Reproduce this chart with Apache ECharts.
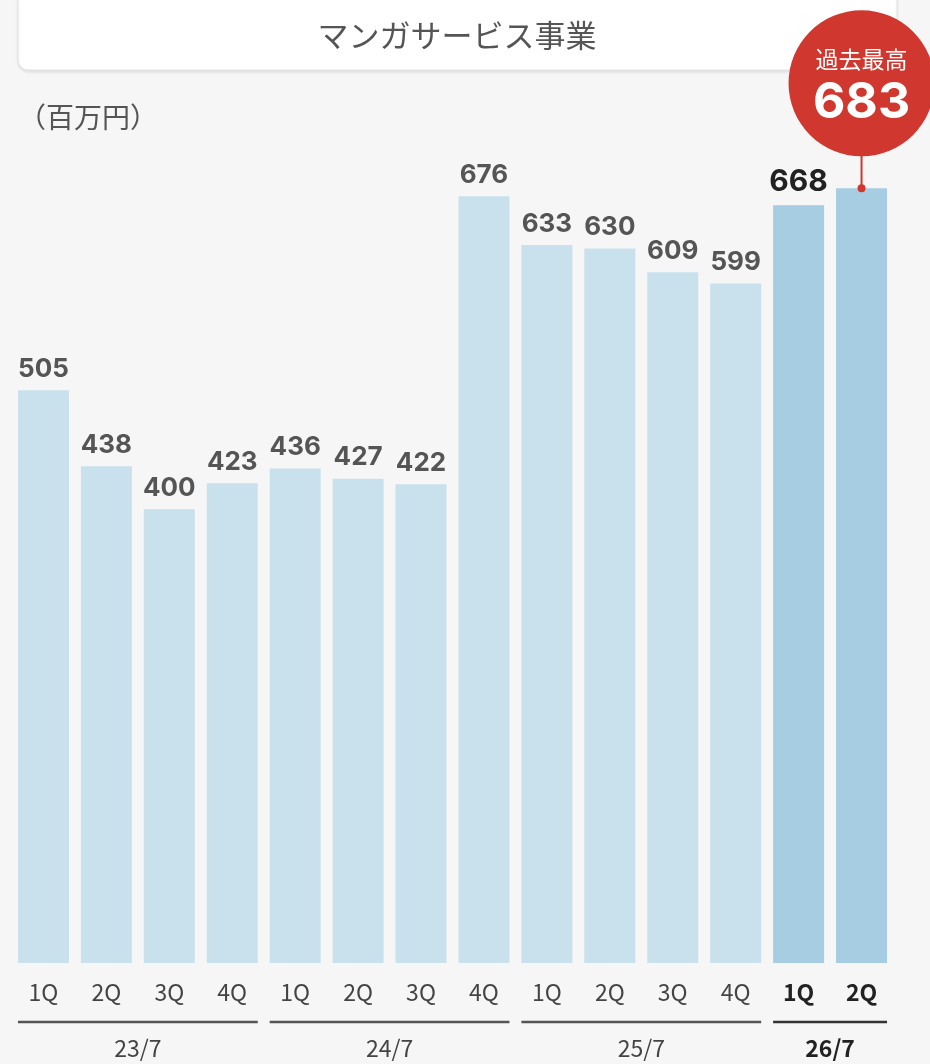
<!DOCTYPE html>
<html>
<head>
<meta charset="utf-8">
<script src="https://cdn.jsdelivr.net/npm/echarts@6/dist/echarts.min.js"></script>
<style>
  html, body { margin: 0; padding: 0; background: #f6f6f6; }
  #chart { width: 930px; height: 1064px; }
</style>
</head>
<body>
<div id="chart"></div>
<script>
const quarters = ['1Q', '2Q', '3Q', '4Q', '1Q', '2Q', '3Q', '4Q', '1Q', '2Q', '3Q', '4Q', '1Q', '2Q'];
const sales = [505, 438, 400, 423, 436, 427, 422, 676, 633, 630, 609, 599, 668, 683];
const groupLabels = ['23/7', '24/7', '25/7', '26/7'];
const groupSizes = [4, 4, 4, 2];
const currentFrom = 12; // 26/7 bars are highlighted
const recordIndex = 13;

const JP = '"Noto Sans CJK JP", "Noto Sans", sans-serif';
const NUM = 'Inter, Roboto, "Liberation Sans", sans-serif';
const BAR_W = 51;

const chart = echarts.init(document.getElementById('chart'));

chart.setOption({
  backgroundColor: '#f6f6f6',
  animation: false,
  grid: { left: 12, right: 37, top: 169, bottom: 101 },
  xAxis: {
    type: 'category',
    data: quarters,
    axisLine: { show: false },
    axisTick: { show: false },
    axisLabel: {
      margin: 18,
      formatter: (v, i) => i >= currentFrom ? '{b|' + v + '}' : '{n|' + v + '}',
      rich: {
        n: { fontFamily: JP, fontSize: 23, color: '#444' },
        b: { fontFamily: JP, fontSize: 23, fontWeight: 'bold', color: '#222' }
      }
    }
  },
  yAxis: { type: 'value', min: 0, max: 700, show: false, splitLine: { show: false } },
  series: [{
    type: 'bar',
    barWidth: BAR_W,
    data: sales.map((v, i) => ({
      value: v,
      itemStyle: { color: i >= currentFrom ? '#a6cde1' : '#c9e1ed' },
      label: i === recordIndex ? { show: false } :
        i >= currentFrom ? { fontSize: 30, color: '#222' } : {}
    })),
    label: {
      show: true,
      position: 'top',
      distance: 8,
      fontFamily: NUM,
      fontWeight: 'bold',
      fontSize: 26,
      color: '#555'
    }
  }]
});

// overlays placed from the axis scales
const px = (i, v) => chart.convertToPixel({ xAxisIndex: 0, yAxisIndex: 0 }, [i, v]);
const graphics = [];

graphics.push({
  type: 'rect', z: 10,
  shape: { x: 18, y: -12, width: 879, height: 82, r: 10 },
  style: { fill: '#fff', stroke: '#e4e4e4', lineWidth: 1, shadowBlur: 3, shadowOffsetY: 2, shadowColor: 'rgba(0,0,0,0.08)' }
});
graphics.push({
  type: 'text', z: 11, x: 457, y: 35,
  style: { text: 'マンガサービス事業', font: '31px ' + JP, fill: '#555', textAlign: 'center', textVerticalAlign: 'middle' }
});
graphics.push({
  type: 'text', z: 11, x: 18, y: 117,
  style: { text: '（百万円）', font: '28px ' + JP, fill: '#555', textAlign: 'left', textVerticalAlign: 'middle' }
});

// group lines + labels
let start = 0;
groupSizes.forEach((n, g) => {
  const x0 = px(start, 0)[0] - BAR_W / 2;
  const x1 = px(start + n - 1, 0)[0] + BAR_W / 2;
  const last = g === groupSizes.length - 1;
  graphics.push({
    type: 'line', z: 10,
    shape: { x1: x0, y1: 1022, x2: x1, y2: 1022 },
    style: { stroke: last ? '#333' : '#555', lineWidth: 2.5 }
  });
  graphics.push({
    type: 'text', z: 10, x: (x0 + x1) / 2, y: 1048,
    style: {
      text: groupLabels[g], font: (last ? 'bold ' : '') + '23px ' + JP,
      fill: last ? '#222' : '#444', textAlign: 'center', textVerticalAlign: 'middle'
    }
  });
  start += n;
});

// record badge
const [rx, ry] = px(recordIndex, sales[recordIndex]);
const cy = ry - 105, r = 73;
graphics.push({
  type: 'line', z: 12,
  shape: { x1: rx, y1: cy + r - 2, x2: rx, y2: ry },
  style: { stroke: '#d0372e', lineWidth: 2 }
});
graphics.push({ type: 'circle', z: 12, shape: { cx: rx, cy: ry, r: 4 }, style: { fill: '#d0372e' } });
graphics.push({ type: 'circle', z: 13, shape: { cx: rx, cy: cy, r: r }, style: { fill: '#d0372e' } });
graphics.push({
  type: 'text', z: 14, x: rx, y: cy - 24,
  style: { text: '過去最高', font: '23px ' + JP, fill: '#fff', textAlign: 'center', textVerticalAlign: 'middle' }
});
graphics.push({
  type: 'text', z: 14, x: rx, y: cy + 20,
  style: { text: String(sales[recordIndex]), font: 'bold 50px ' + NUM, fill: '#fff', textAlign: 'center', textVerticalAlign: 'middle' }
});

chart.setOption({ graphic: graphics });
</script>
</body>
</html>
